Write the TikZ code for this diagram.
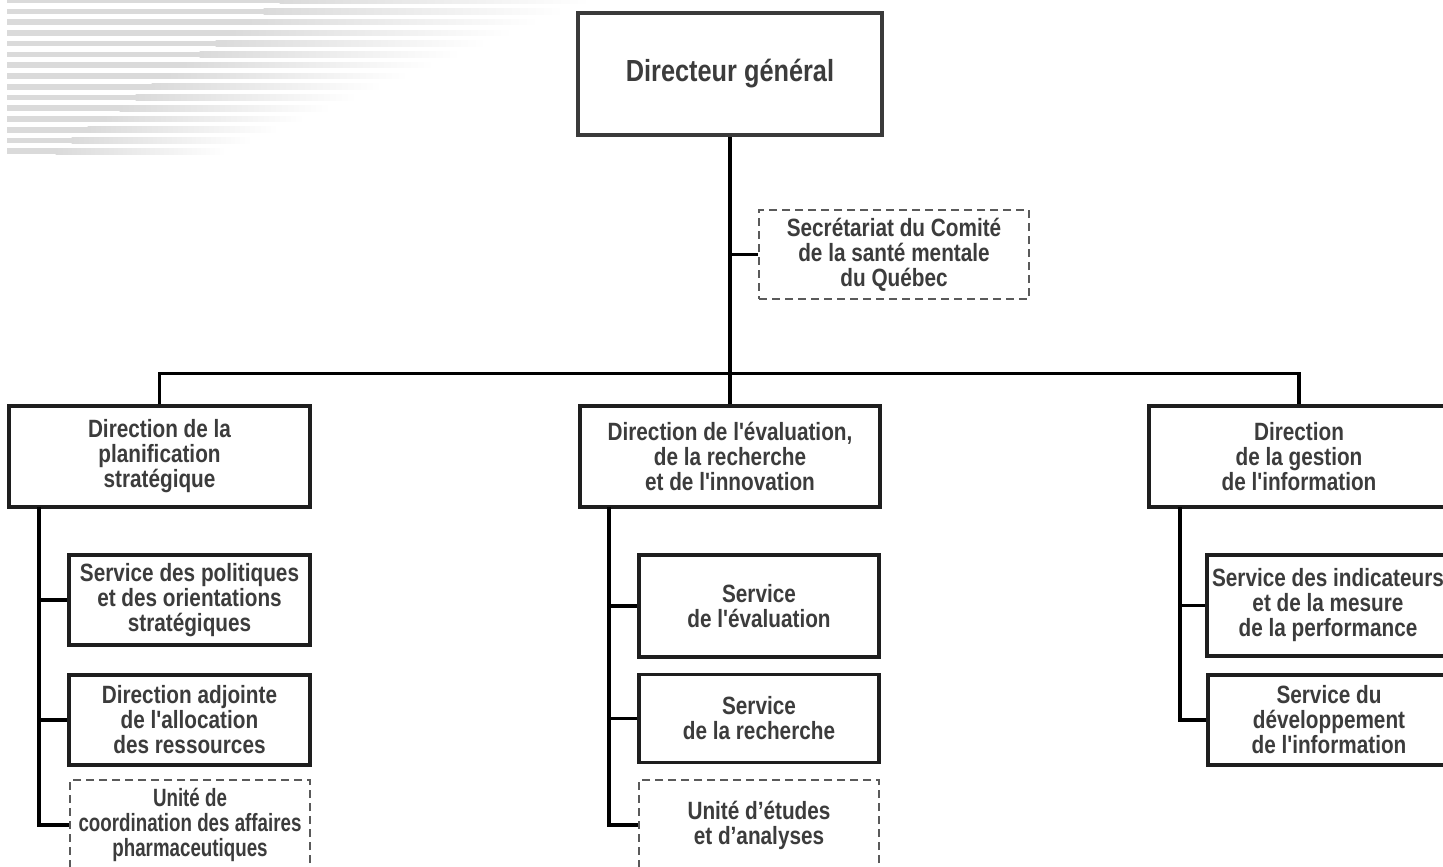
\documentclass[tikz,border=0pt]{standalone}
\usepackage{fontspec}
\newfontfamily\orgfont{Liberation Sans}[FakeStretch=0.83]
\newfontfamily\orgfontc{Liberation Sans}[FakeStretch=0.75]
\definecolor{txtc}{HTML}{3C3C3C}
\definecolor{boxc}{HTML}{1E1E1E}
\definecolor{topc}{HTML}{3A3A3A}
\definecolor{dashc}{HTML}{5A5A5A}
\definecolor{stripec}{HTML}{DADADA}
\begin{document}
\begin{tikzpicture}[x=1pt,y=-1pt,
  box/.style={draw=boxc, line width=3.2pt, rectangle, inner sep=0pt, fill=white,
    text=txtc, font=\orgfont\bfseries\fontsize{25}{25}\selectfont, align=center},
  topbox/.style={box, draw=topc, line width=4.2pt, font=\orgfont\bfseries\fontsize{30.5}{32}\selectfont},
  dbox/.style={box, draw=dashc, line width=1.7pt, dash pattern=on 8pt off 5pt},
  conn/.style={draw=black, line width=3.2pt}]
\useasboundingbox (0,0) rectangle (1443,867);
% background stripes
\foreach \i in {0,...,14}{
  \pgfmathsetmacro{\yy}{0.7+10.75*\i}
  \pgfmathsetmacro{\xa}{280-16*\i}
  \pgfmathsetmacro{\xb}{590-26*\i}
  \fill[stripec] (7,\yy-2.8) rectangle (\xa,\yy+2.8);
  \shade[left color=stripec, right color=white] (\xa-0.5,\yy-2.8) rectangle (\xb,\yy+2.8);
}
% nodes
\node[topbox, minimum width=304, minimum height=122] (dg) at (730,74) {Directeur général};
\node[dbox, minimum width=270, minimum height=89] (sec) at (894,254.5) {Secrétariat du Comité\\de la santé mentale\\du Québec};
\node[box, minimum width=301, minimum height=101] (dps) at (159.5,456.5) {Direction de la\\planification\\stratégique};
\node[box, minimum width=300, minimum height=101] (dere) at (730,456.5) {Direction de l'évaluation,\\de la recherche\\et de l'innovation};
\node[box, minimum width=300, minimum height=101] (dgi) at (1299,456.5) {Direction\\de la gestion\\de l'information};
% left column
\node[box, minimum width=241, minimum height=90] (s1) at (189.5,600) {Service des politiques\\et des orientations\\stratégiques};
\node[box, minimum width=241, minimum height=90] (s2) at (189.5,720) {Direction adjointe\\de l'allocation\\des ressources};
\node[dbox, minimum width=240, minimum height=90, font=\orgfontc\bfseries\fontsize{25}{25}\selectfont] (s3) at (190,825) {Unité de\\coordination des affaires\\pharmaceutiques};
% middle column
\node[box, minimum width=240, minimum height=102] (m1) at (759,606) {Service\\de l'évaluation};
\node[box, minimum width=240, minimum height=88] (m2) at (759,718.5) {Service\\de la recherche};
\node[dbox, minimum width=240, minimum height=90] (m3) at (759,825) {Unité d’études\\et d’analyses};
% right column
\node[box, minimum width=242, minimum height=101] (r1) at (1328,605.5) {Service des indicateurs\\et de la mesure\\de la performance};
\node[box, minimum width=242, minimum height=90] (r2) at (1329,720) {Service du\\développement\\de l'information};
% connectors
\draw[conn] (dg.south) -- (dere.north);
\draw[conn] (sec.west) -- (sec.west -| dg.south);
\draw[conn] (dps.north) -- ++(0,-31) -| (dgi.north);
\coordinate (l0) at (39,507);
\coordinate (c0) at (609,507);
\coordinate (r0) at (1180,507);
\draw[conn] (l0) |- (s3.west);
\draw[conn] (l0 |- s1.west) -- (s1.west);
\draw[conn] (l0 |- s2.west) -- (s2.west);
\draw[conn] (c0) |- (m3.west);
\draw[conn] (c0 |- m1.west) -- (m1.west);
\draw[conn] (c0 |- m2.west) -- (m2.west);
\draw[conn] (r0) |- (r2.west);
\draw[conn] (r0 |- r1.west) -- (r1.west);
\end{tikzpicture}
\end{document}
